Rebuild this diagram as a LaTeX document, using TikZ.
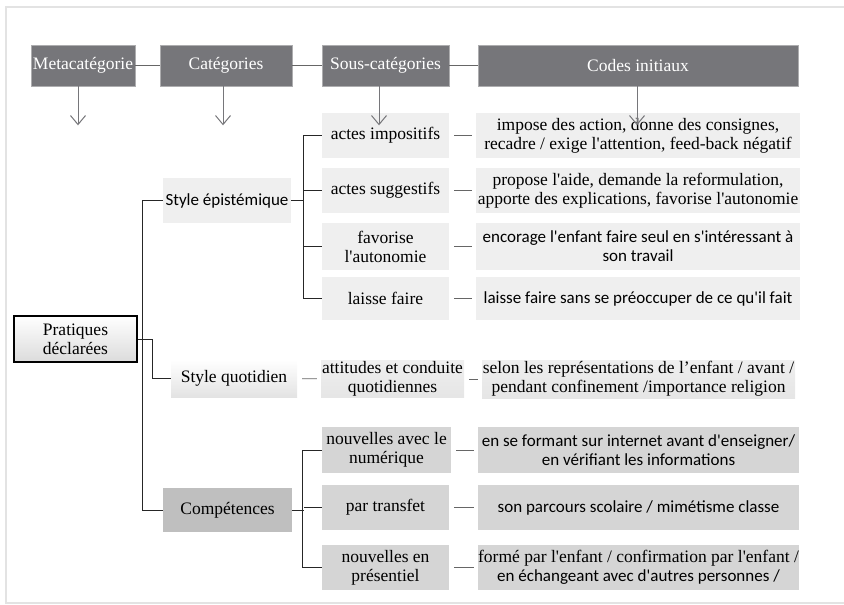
\documentclass[tikz,border=0pt]{standalone}
\usepackage{fontspec}
\setmainfont{Liberation Serif}
\newfontfamily\serfont{Liberation Serif}
\newfontfamily\calfont{Carlito}
\usetikzlibrary{arrows.meta}
\definecolor{headgray}{HTML}{76767A}
\definecolor{litegray}{HTML}{EFEFEF}
\definecolor{compgray}{HTML}{BFBFBF}
\definecolor{kidgray}{HTML}{D5D5D5}
\definecolor{framegray}{HTML}{E3E3E3}
\begin{document}
\begin{tikzpicture}[x=1pt,y=-1pt,
    box/.style={inner sep=0pt,align=center,font=\serfont\fontsize{17.5}{19}\selectfont},
    sans/.style={font=\calfont\fontsize{17}{19}\selectfont},
    head/.style={box,fill=headgray,draw=headgray!60!white,line width=0.6pt,text=white,minimum height=41pt},
    lite/.style={box,fill=litegray},
    kid/.style={box,fill=kidgray},
    tree/.style={draw=black!85,line width=0.8pt},
    link/.style={draw=black!60,line width=0.8pt,shorten <=5pt,shorten >=4pt},
    down/.style={draw=headgray,line width=1pt,-{Straight Barb[length=9pt,width=15pt]}}]
    \useasboundingbox (0,0) rectangle (844,605);
    \draw[framegray,line width=2pt] (844,7) -- (6,7) -- (6,603) -- (844,603);
    % header row
    \node[head,minimum width=104pt] (meta) at (83,65.5) {Metacatégorie};
    \node[head,minimum width=132pt] (cat) at (226,65.5) {Catégories};
    \node[head,minimum width=127pt] (sous) at (385.5,65.5) {Sous-catégories};
    \node[head,minimum width=320pt] (codes) at (638,65.5) {Codes initiaux};
    \draw[link,shorten <=0pt,shorten >=0pt] (meta) -- (cat);
    \draw[link,shorten <=0pt,shorten >=0pt] (cat) -- (sous);
    \draw[link,shorten <=0pt,shorten >=0pt] (sous) -- (codes);
    % metacategorie
    \node[box,draw=black,line width=1.5pt,top color=white,bottom color=black!14,
        minimum width=123pt,minimum height=46pt] (prat) at (75.5,339) {Pratiques\\déclarées};
    % categories
    \node[lite,sans,minimum width=128pt,minimum height=45pt] (epist) at (227,200.5) {Style épistémique};
    \node[box,top color=white,bottom color=black!11,minimum width=126pt,minimum height=37pt]
        (quotid) at (234,378.5) {Style quotidien};
    \node[box,fill=compgray,minimum width=129pt,minimum height=44pt] (comp) at (227.5,510) {Compétences};
    % sous-categories
    \node[lite,minimum width=127pt,minimum height=45pt] (impo) at (385.5,135.5) {actes impositifs};
    \node[lite,minimum width=127pt,minimum height=45pt] (sugg) at (385.5,190.5) {actes suggestifs};
    \node[lite,minimum width=127pt,minimum height=47pt] (favo) at (385.5,246.5) {favorise\\l'autonomie};
    \node[lite,minimum width=127pt,minimum height=43pt] (laisse) at (385.5,298.5) {laisse faire};
    \node[box,top color=litegray,bottom color=black!10,minimum width=143pt,minimum height=37pt]
        (attitudes) at (392.5,379) {attitudes et conduite\\quotidiennes};
    \node[kid,minimum width=129pt,minimum height=46pt] (numerique) at (386.5,450) {nouvelles avec le\\numérique};
    \node[kid,minimum width=127pt,minimum height=45pt] (transfet) at (385.5,507.5) {par transfet};
    \node[kid,minimum width=127pt,minimum height=45pt] (presentiel) at (385.5,567.5) {nouvelles en\\présentiel};
    % codes initiaux
    \node[lite,minimum width=324pt,minimum height=45pt] (c1) at (638,135.5)
        {impose des action, donne des consignes,\\recadre / exige l'attention, feed-back négatif};
    \node[lite,minimum width=324pt,minimum height=45pt] (c2) at (638,190.5)
        {propose l'aide, demande la reformulation,\\apporte des explications, favorise l'autonomie};
    \node[lite,sans,minimum width=324pt,minimum height=47pt] (c3) at (638,246.5)
        {encorage l'enfant faire seul en s'intéressant à\\son travail};
    \node[lite,sans,minimum width=324pt,minimum height=43pt] (c4) at (638,298.5)
        {laisse faire sans se préoccuper de ce qu'il fait};
    \node[box,top color=litegray,bottom color=black!10,minimum width=313pt,minimum height=38pt] (c5) at (638.5,379)
        {selon les représentations de l’enfant / avant /\\pendant confinement /importance religion};
    \node[kid,sans,minimum width=321pt,minimum height=46pt] (c6) at (638.5,450)
        {en se formant sur internet avant d'enseigner/\\en vérifiant les informations};
    \node[kid,sans,minimum width=321pt,minimum height=45pt] (c7) at (638.5,507.5)
        {son parcours scolaire / mimétisme classe};
    \node[kid,minimum width=321pt,minimum height=45pt] (c8) at (638.5,567.5)
        {formé par l'enfant / confirmation par l'enfant /\\{\calfont\fontsize{17}{19}\selectfont en échangeant avec d'autres personnes /}};
    % tree
    \draw[tree] (epist.west) -- ++(-20,0) |- (comp.west);
    \draw[tree] (prat.east) -- ++(15,0) |- (quotid.west);
    \draw[tree] (epist.east) -- ++(13,0);
    \draw[tree] (impo.west) -- ++(-18,0) |- (laisse.west);
    \foreach \n in {sugg,favo}
        \draw[tree] (\n.west) -- ++(-18,0);
    \draw[tree] (comp.east) -- ++(12,0);
    \draw[tree] (numerique.west) -- ++(-19,0) |- (presentiel.west);
    \draw[tree] (transfet.west) -- ++(-18,0);
    \draw[link] (quotid) -- (attitudes);
    \foreach \a/\b in {impo/c1,sugg/c2,favo/c3,laisse/c4,attitudes/c5,numerique/c6,transfet/c7,presentiel/c8}
        \draw[link] (\a) -- (\b);
    % arrows
    \draw[down] ([xshift=-5pt]meta.south) -- ++(0,39);
    \draw[down] ([xshift=-3pt]cat.south) -- ++(0,39);
    \draw[down] ([xshift=-6.5pt]sous.south) -- ++(0,39);
    \draw[down] ([xshift=-1pt]codes.south) -- ++(0,39);
\end{tikzpicture}
\end{document}
